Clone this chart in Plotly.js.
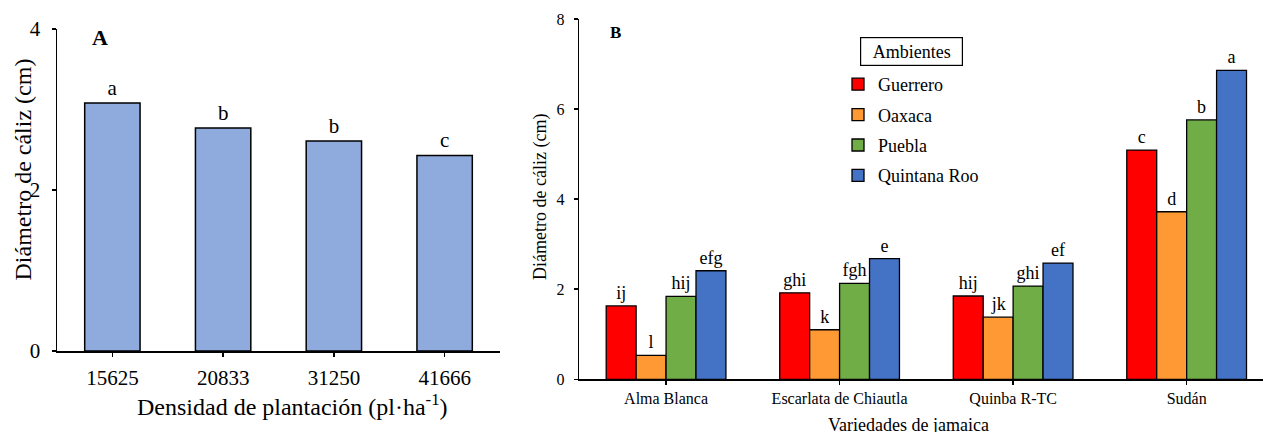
<!DOCTYPE html>
<html>
<head>
<meta charset="utf-8">
<script src="https://cdn.plot.ly/plotly-3.0.1.min.js"></script>
<style>
  html, body { margin: 0; padding: 0; background: #fff; }
  #chart { width: 1263px; height: 432px; }
</style>
</head>
<body>
<div id="chart"></div>
<script>
// ---------- Data ----------
// Panel A
const densidades = ["15625", "20833", "31250", "41666"];
const diametroA = [3.08, 2.77, 2.61, 2.43];
const letrasA = ["a", "b", "b", "c"];

// Panel B
const variedades = ["Alma Blanca", "Escarlata de Chiautla", "Quinba R-TC", "Sudán"];
const ambientes = ["Guerrero", "Oaxaca", "Puebla", "Quintana Roo"];
const guerrero = [1.63, 1.92, 1.85, 5.09];
const oaxaca = [0.53, 1.10, 1.38, 3.72];
const puebla = [1.84, 2.13, 2.07, 5.76];
const quintanaRoo = [2.41, 2.68, 2.58, 6.86];
const letrasGuerrero = ["ij", "ghi", "hij", "c"];
const letrasOaxaca = ["l", "k", "jk", "d"];
const letrasPuebla = ["hij", "fgh", "ghi", "b"];
const letrasQuintanaRoo = ["efg", "e", "ef", "a"];

const coloresB = ["#FF0000", "#FF9933", "#70AD47", "#4472C4"];
const colorA = "#8FAADC";

// ---------- Layout helpers ----------
const W = 1263, H = 432;
const px = x => x / W;
const py = y => (H - y) / H;
const FONT = "Liberation Serif, Times New Roman, serif";

const traces = [];

traces.push({
  type: "bar",
  x: densidades,
  y: diametroA,
  text: letrasA,
  textposition: "outside",
  cliponaxis: false,
  constraintext: "none",
  textfont: { family: FONT, size: 21, color: "#000" },
  width: 0.5,
  marker: { color: colorA, line: { color: "#000", width: 1.5 } },
  xaxis: "x", yaxis: "y",
  showlegend: false,
  hoverinfo: "x+y"
});

const seriesB = [guerrero, oaxaca, puebla, quintanaRoo];
const letrasB = [letrasGuerrero, letrasOaxaca, letrasPuebla, letrasQuintanaRoo];
seriesB.forEach((vals, i) => {
  traces.push({
    type: "bar",
    name: ambientes[i],
    x: variedades,
    y: vals,
    text: letrasB[i],
    textposition: "outside",
    cliponaxis: false,
    constraintext: "none",
    textfont: { family: FONT, size: 18, color: "#000" },
    marker: { color: coloresB[i], line: { color: "#000", width: 1.3 } },
    xaxis: "x2", yaxis: "y2",
    legendgroup: "g" + i
  });
});

const axisCommon = {
  showline: true, linecolor: "#000", linewidth: 1.5,
  showgrid: false, zeroline: false,
  ticks: "outside", ticklen: 4, tickcolor: "#000", tickwidth: 1.5,
  fixedrange: true
};

function label(text, x, y, size, extra) {
  return Object.assign({
    text: text, xref: "paper", yref: "paper", x: px(x), y: py(y),
    xanchor: "center", yanchor: "middle", showarrow: false,
    font: { family: FONT, size: size, color: "#000" }
  }, extra || {});
}

const layout = {
  width: W, height: H,
  margin: { l: 0, r: 0, t: 0, b: 0 },
  paper_bgcolor: "#fff", plot_bgcolor: "#fff",
  font: { family: FONT, color: "#000" },
  barmode: "group",
  bargap: 0.31,
  bargroupgap: 0,
  showlegend: true,
  legend: {
    x: px(838), y: py(66), xanchor: "left", yanchor: "top",
    font: { family: FONT, size: 18, color: "#000" },
    tracegroupgap: 4,
    bgcolor: "rgba(0,0,0,0)"
  },
  xaxis: Object.assign({}, axisCommon, {
    domain: [px(57), px(500)],
    range: [-0.5, 3.5],
    type: "category",
    tickfont: { family: FONT, size: 21, color: "#000" },
    ticklabelstandoff: 3,
    anchor: "y"
  }),
  yaxis: Object.assign({}, axisCommon, {
    domain: [py(351), py(29)],
    range: [0, 4],
    tickvals: [0, 2, 4],
    tickfont: { family: FONT, size: 21, color: "#000" },
    ticklabelstandoff: 7,
    anchor: "x"
  }),
  xaxis2: Object.assign({}, axisCommon, {
    domain: [px(579.3), 1],
    range: [-0.5, 3.44],
    type: "category",
    tickfont: { family: FONT, size: 16, color: "#000" },
    ticklabelstandoff: 0,
    anchor: "y2"
  }),
  yaxis2: Object.assign({}, axisCommon, {
    domain: [py(379.3), py(19)],
    range: [0, 8],
    tickvals: [0, 2, 4, 6, 8],
    tickfont: { family: FONT, size: 16, color: "#000" },
    ticklabelstandoff: 6,
    anchor: "x2"
  }),
  annotations: [
    label("<b>A</b>", 100, 38, 22),
    label("<b>B</b>", 615, 32, 17),
    label("Diámetro de cáliz (cm)", 22, 169.5, 24, { textangle: -90 }),
    label("Densidad de plantación (pl·ha<sup>-1</sup>)", 292.5, 405, 24),
    label("Diámetro de cáliz (cm)", 540, 197, 18, { textangle: -90 }),
    label("Variedades de jamaica", 908, 425, 18),
    label("Ambientes", 911, 51, 18, {
      width: 95, height: 21, borderpad: 3,
      bordercolor: "#000", borderwidth: 1.2, bgcolor: "#fff"
    })
  ]
};

Plotly.newPlot("chart", traces, layout, { displayModeBar: false, staticPlot: true });
</script>
</body>
</html>
